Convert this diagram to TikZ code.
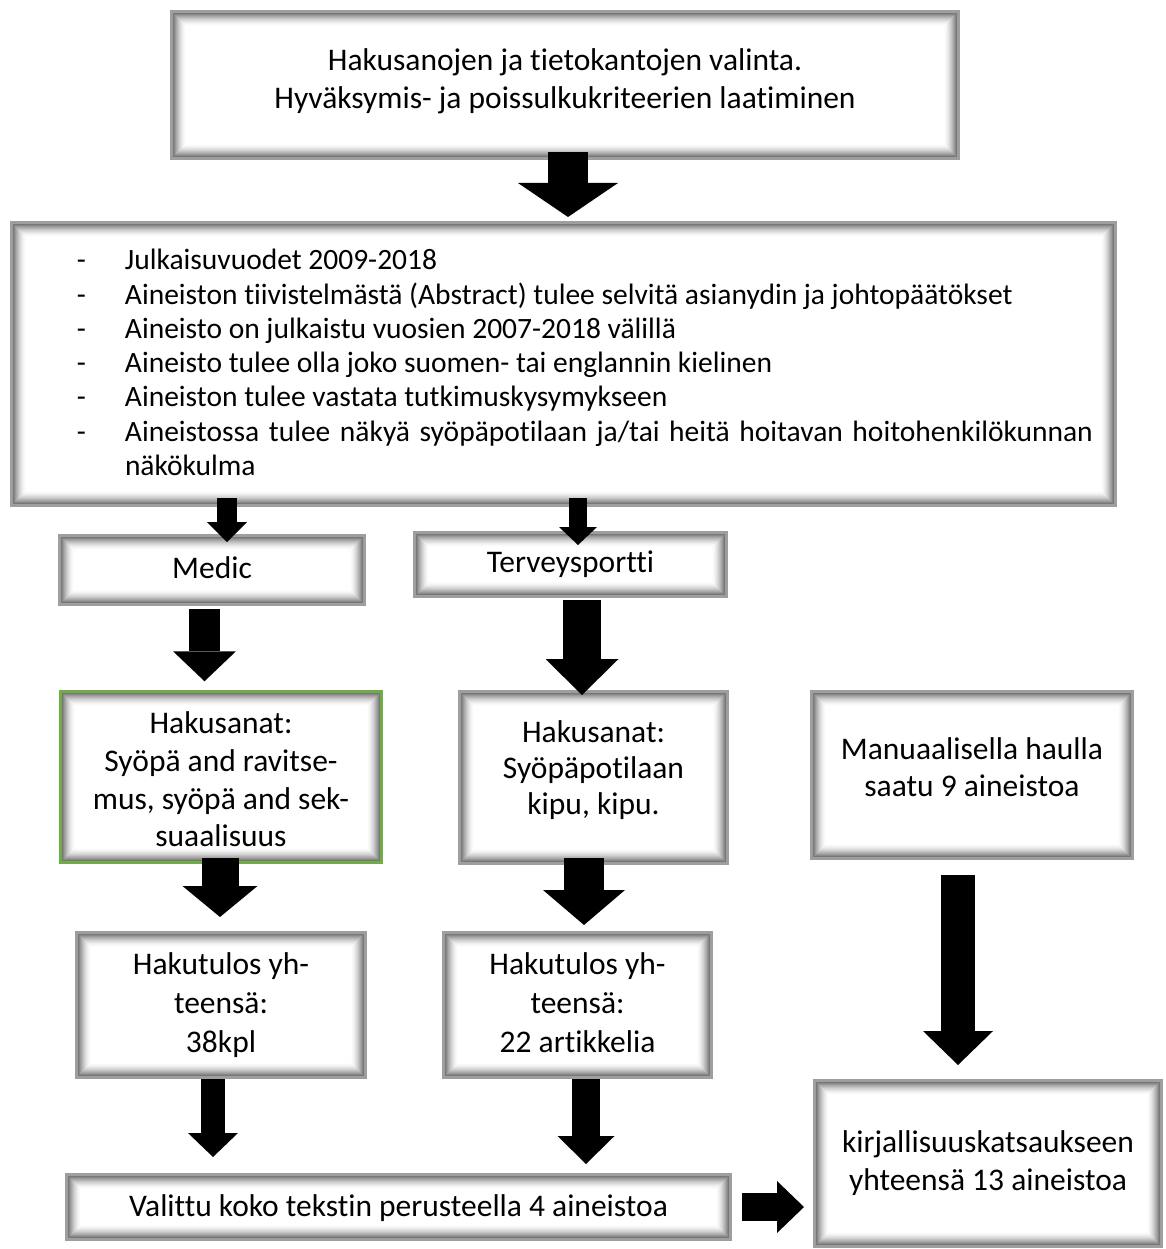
\documentclass[tikz,border=0pt]{standalone}
\usepackage{fontspec}
\setmainfont{Carlito}[Ligatures=NoCommon]
\usetikzlibrary{calc,arrows.meta}
\definecolor{bordergray}{RGB}{158,158,158}
\definecolor{boxgreen}{RGB}{112,173,71}
\newcommand\dashitem{\par\noindent\llap{\makebox[48pt][l]{-}}}
\newcommand\ctext[2]{\raisebox{#1}[0pt][0pt]{\begin{tabular}{@{}c@{}}#2\end{tabular}}}
\tikzset{
  glow/.style={path picture={
    \foreach \i in {1,...,14}{
      \pgfmathsetmacro{\op}{0.68*(1-\i/15)^1.7}
      \draw[black, opacity=\op, line width=1.05pt]
        ([shift={(\i pt,-\i pt)}]path picture bounding box.north west) rectangle
        ([shift={(-\i pt,\i pt)}]path picture bounding box.south east);
    }}},
  box/.style={draw=bordergray, line width=3pt, fill=white, inner sep=0pt,
    glow, font=\fontsize{31.5}{38}\selectfont},
  greenbox/.style={box, draw=boxgreen, line width=2.5pt},
  fat/.style n args={3}{line width=#1, black,
    -{Triangle[width=#2, length=#3, line width=0pt]}}
}
\begin{document}
\begin{tikzpicture}[x=1pt, y=-1pt]
\useasboundingbox (0,0) rectangle (1166,1249);

\node[box, minimum width=787pt, minimum height=147pt] (top) at (565,85)
  {\ctext{-3pt}{Hakusanojen ja tietokantojen valinta.\\Hyväksymis- ja poissulkukriteerien laatiminen}};

\node[box, minimum width=1104pt, minimum height=283pt,
  font=\fontsize{29.5}{34.25}\selectfont] (crit) at (563.5,364)
  {\raisebox{-8pt}[0pt][0pt]{\parbox{1059pt}{\leftskip=91pt\parindent=0pt
   \hyphenpenalty=10000\exhyphenpenalty=10000
   \dashitem\strut Julkaisuvuodet 2009-2018
   \dashitem Aineiston tiivistelmästä (Abstract) tulee selvitä asianydin ja johtopäätökset
   \dashitem Aineisto on julkaistu vuosien 2007-2018 välillä
   \dashitem Aineisto tulee olla joko suomen- tai englannin kielinen
   \dashitem Aineiston tulee vastata tutkimuskysymykseen
   \dashitem Aineistossa tulee näkyä syöpäpotilaan ja/tai heitä hoitavan hoitohenkilökunnan näkökulma\strut\par}}};

\node[box, minimum width=305pt, minimum height=69pt] (medic) at (212,570)
  {\ctext{-7pt}{Medic}};
\node[box, minimum width=312pt, minimum height=64pt] (terv) at (570.5,564.5)
  {\ctext{-7pt}{Terveysportti}};

\node[greenbox, minimum width=321pt, minimum height=171pt,
  font=\fontsize{31.5}{37.7}\selectfont] (green) at (221,777)
  {\ctext{-12pt}{Hakusanat:\\Syöpä and ravitse-\\mus, syöpä and sek-\\suaalisuus}};
\node[box, minimum width=268pt, minimum height=172pt,
  font=\fontsize{31.5}{36}\selectfont] (hak2) at (593.5,777.5)
  {\ctext{-0.5pt}{Hakusanat:\\Syöpäpotilaan\\kipu, kipu.}};
\node[box, minimum width=321pt, minimum height=167pt,
  font=\fontsize{31.5}{36.5}\selectfont] (manual) at (972,775)
  {\ctext{-2pt}{Manuaalisella haulla\\saatu 9 aineistoa}};

\node[box, minimum width=289pt, minimum height=145pt,
  font=\fontsize{31.5}{39}\selectfont] (res1) at (221,1005)
  {\ctext{-7pt}{Hakutulos yh-\\teensä:\\38kpl}};
\node[box, minimum width=268pt, minimum height=145pt,
  font=\fontsize{31.5}{39}\selectfont] (res2) at (577.5,1005)
  {\ctext{-7pt}{Hakutulos yh-\\teensä:\\22 artikkelia}};

\node[box, minimum width=664pt, minimum height=65pt] (valittu) at (398.5,1207)
  {\ctext{-8pt}{Valittu koko tekstin perusteella 4 aineistoa}};
\node[box, minimum width=347pt, minimum height=166pt,
  font=\fontsize{31.5}{37.5}\selectfont] (kirj) at (988,1163.5)
  {\ctext{-6.5pt}{kirjallisuuskatsaukseen\\yhteensä 13 aineistoa}};

% arrows
\draw[fat={40pt}{100pt}{34pt}] ($(top.south)+(3,-8)$) -- ($(crit.north)+(4.5,-4)$);
\draw[fat={20pt}{40pt}{20pt}] ($(crit.south -| medic.north)+(15,-9)$) -- ($(medic.north)+(15,8)$);
\draw[fat={18pt}{38pt}{18pt}] ($(crit.south -| terv.north)+(7.5,-9)$) -- ($(terv.north)+(7.5,14)$);
\draw[fat={31pt}{63pt}{30pt}] ($(medic.south)+(-7.5,3)$) -- ($(green.north)+(-16.5,-9)$);
\draw[fat={38pt}{73pt}{36pt}] ($(terv.south)+(11.5,2)$) -- ($(hak2.north)+(-11.5,5)$);
\draw[fat={37pt}{75pt}{31pt}] ($(green.south)+(-1,-6)$) -- ($(res1.north)+(-1,-14)$);
\draw[fat={40pt}{82pt}{35pt}] ($(hak2.south)+(-9.5,-7)$) -- ($(res2.north)+(6.5,-6)$);
\draw[fat={24pt}{50pt}{24pt}] ($(res1.south)+(-8,0)$) -- ($(valittu.north -| res1.south)+(-8,-16)$);
\draw[fat={28pt}{57pt}{28pt}] ($(res2.south)+(8.5,0)$) -- ($(valittu.north -| res2.south)+(8.5,-9)$);
\draw[fat={34pt}{70pt}{34pt}] ($(manual.south)+(-14,15)$) -- ($(kirj.north)+(-30,-14)$);
\draw[fat={28pt}{52pt}{27pt}] ($(valittu.east)+(10,0)$) -- ($(kirj.west |- valittu.east)+(-9,0)$);
\end{tikzpicture}
\end{document}
